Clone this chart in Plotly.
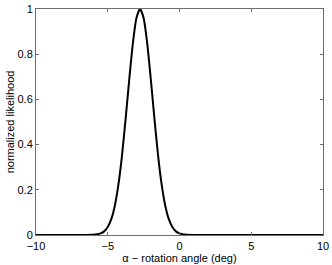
import plotly.graph_objects as go

angle_deg = [-10, -7, -6, -5.75, -5.5, -5.25, -5, -4.75, -4.5, -4.25, -4, -3.75, -3.5,
             -3.25, -3, -2.75, -2.5, -2.25, -2, -1.75, -1.5, -1.25, -1, -0.75, -0.5,
             -0.25, 0, 0.5, 1, 10]
likelihood = [0, 0, 0.001, 0.003, 0.007, 0.016, 0.035, 0.071, 0.132, 0.226, 0.356, 0.517, 0.690,
              0.848, 0.960, 1.0, 0.960, 0.848, 0.690, 0.517, 0.356, 0.226, 0.132, 0.071, 0.035,
              0.016, 0.007, 0.001, 0, 0]

x_ticks = [-10, -5, 0, 5, 10]
y_ticks = [0, 0.2, 0.4, 0.6, 0.8, 1]
y_tick_labels = ["0", "0.2", "0.4", "0.6", "0.8", "1"]

fig = go.Figure()
fig.add_trace(go.Scatter(x=angle_deg, y=likelihood, mode="lines",
                         line=dict(color="black", width=2, shape="spline", smoothing=0.6),
                         hoverinfo="skip"))

axis_common = dict(showgrid=False, zeroline=False, showline=True, linecolor="#6e6e6e",
                   linewidth=1, mirror="ticks", ticks="inside", ticklen=3, automargin=False,
                   ticklabeloverflow="allow",
                   tickcolor="#6e6e6e", tickfont=dict(family="Liberation Sans, Arial", size=11, color="black"))

fig.update_layout(
    width=332, height=265,
    margin=dict(l=36, r=9, t=9, b=30),
    paper_bgcolor="white", plot_bgcolor="white",
    showlegend=False,
    font=dict(family="Liberation Sans, Arial", size=11, color="black"),
    xaxis=dict(range=[-10, 10], tickvals=x_ticks, ticklabelstandoff=1,
               title=dict(text="α − rotation angle (deg)", standoff=0,
                          font=dict(size=11)), **axis_common),
    yaxis=dict(range=[0, 1], tickvals=y_ticks, ticktext=y_tick_labels,
               title=dict(text="normalized likelihood", standoff=0,
                          font=dict(size=11)), **axis_common),
)

fig.write_html("out.html", config={"displayModeBar": False, "staticPlot": True},
               post_script="document.body.style.margin='0';document.body.style.overflow='hidden';")
